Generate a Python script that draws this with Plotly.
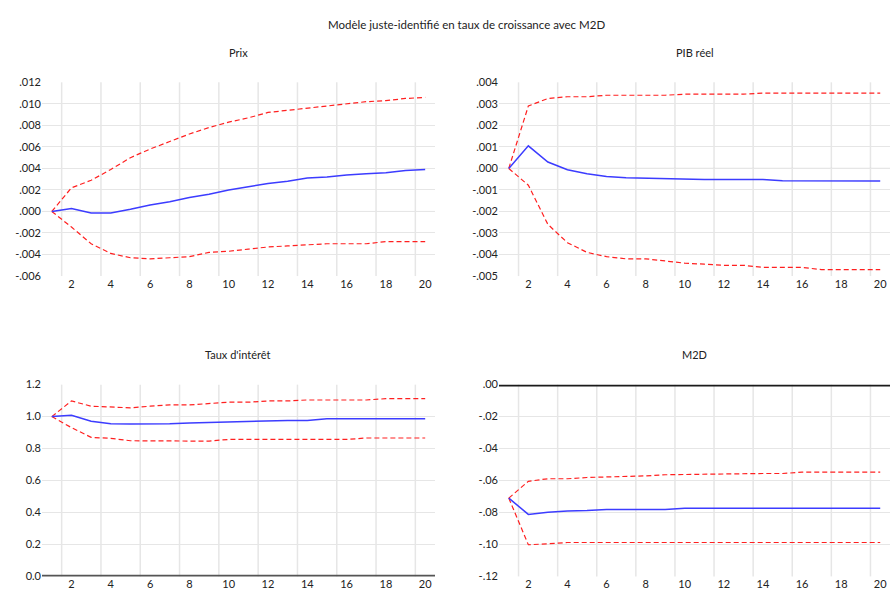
import plotly.graph_objects as go

# Horizons of the impulse responses
periods = list(range(1, 21))

# Prix
prix_irf = [0.0, 0.00027, -0.00015, -0.00015, 0.0002, 0.0006, 0.0009, 0.0013, 0.0016, 0.0020,
            0.0023, 0.0026, 0.0028, 0.0031, 0.0032, 0.0034, 0.0035, 0.0036, 0.0038, 0.0039]
prix_hi = [0.0, 0.0022, 0.0029, 0.0039, 0.0050, 0.0058, 0.0065, 0.0072, 0.0078, 0.0083,
           0.0087, 0.0092, 0.0094, 0.0096, 0.0098, 0.0100, 0.0102, 0.0103, 0.0105, 0.0106]
prix_lo = [0.0, -0.00145, -0.0030, -0.0039, -0.0043, -0.0044, -0.0043, -0.0042, -0.0038, -0.0037,
           -0.0035, -0.0033, -0.0032, -0.0031, -0.0030, -0.0030, -0.0030, -0.0028, -0.0028, -0.0028]

# PIB réel
pib_irf = [0.0, 0.00105, 0.0003, -0.00006, -0.00025, -0.00037, -0.00043, -0.00046, -0.00048, -0.0005,
           -0.00052, -0.00052, -0.00052, -0.00052, -0.00057, -0.00057, -0.00058, -0.00058, -0.00058, -0.00058]
pib_hi = [0.0, 0.0029, 0.00325, 0.00333, 0.00333, 0.0034, 0.0034, 0.0034, 0.0034, 0.00345,
          0.00345, 0.00345, 0.00345, 0.0035, 0.0035, 0.0035, 0.0035, 0.0035, 0.0035, 0.0035]
pib_lo = [0.0, -0.00078, -0.0026, -0.00345, -0.0039, -0.0041, -0.0042, -0.0042, -0.0043, -0.0044,
          -0.00445, -0.0045, -0.0045, -0.0046, -0.0046, -0.0046, -0.0047, -0.0047, -0.0047, -0.0047]

# Taux d'intérêt
taux_irf = [1.0, 1.008, 0.971, 0.955, 0.953, 0.953, 0.955, 0.960, 0.963, 0.970,
            0.972, 0.976, 0.976, 0.976, 0.986, 0.986, 0.986, 0.986, 0.986, 0.986]
taux_hi = [1.0, 1.098, 1.065, 1.059, 1.055, 1.065, 1.073, 1.073, 1.081, 1.090,
           1.090, 1.098, 1.098, 1.104, 1.104, 1.104, 1.104, 1.112, 1.112, 1.112]
taux_lo = [1.0, 0.931, 0.870, 0.864, 0.849, 0.847, 0.847, 0.847, 0.847, 0.857,
           0.857, 0.857, 0.857, 0.857, 0.857, 0.857, 0.866, 0.866, 0.866, 0.866]

# M2D
m2d_irf = [-0.071, -0.0812, -0.0798, -0.079, -0.0787, -0.0781, -0.0781, -0.0781, -0.0781, -0.0773,
           -0.0773, -0.0773, -0.0773, -0.0773, -0.0773, -0.0773, -0.0773, -0.0773, -0.0773, -0.0773]
m2d_hi = [-0.071, -0.0605, -0.0589, -0.0589, -0.0581, -0.0579, -0.0573, -0.0571, -0.0564, -0.0562,
          -0.0562, -0.0556, -0.0556, -0.0556, -0.0556, -0.0548, -0.0548, -0.0548, -0.0548, -0.0548]
m2d_lo = [-0.071, -0.1002, -0.0996, -0.0988, -0.0988, -0.0988, -0.0988, -0.0988, -0.0988, -0.0988,
          -0.0988, -0.0988, -0.0988, -0.0988, -0.0988, -0.0988, -0.0988, -0.0988, -0.0988, -0.0988]

# Axis ticks
x_ticks = [2, 4, 6, 8, 10, 12, 14, 16, 18, 20]
x_grid = [1.5, 3.5, 5.5, 7.5, 9.5, 11.5, 13.5, 15.5, 17.5, 19.5]

prix_ticks = [-0.006, -0.004, -0.002, 0.0, 0.002, 0.004, 0.006, 0.008, 0.010, 0.012]
prix_labels = ["-.006", "-.004", "-.002", ".000", ".002", ".004", ".006", ".008", ".010", ".012"]
pib_ticks = [-0.005, -0.004, -0.003, -0.002, -0.001, 0.0, 0.001, 0.002, 0.003, 0.004]
pib_labels = ["-.005", "-.004", "-.003", "-.002", "-.001", ".000", ".001", ".002", ".003", ".004"]
taux_ticks = [0.0, 0.2, 0.4, 0.6, 0.8, 1.0, 1.2]
taux_labels = ["0.0", "0.2", "0.4", "0.6", "0.8", "1.0", "1.2"]
m2d_ticks = [-0.12, -0.10, -0.08, -0.06, -0.04, -0.02, 0.0]
m2d_labels = ["-.12", "-.10", "-.08", "-.06", "-.04", "-.02", ".00"]

panels = [
    dict(title="Prix", irf=prix_irf, hi=prix_hi, lo=prix_lo, ticks=prix_ticks, labels=prix_labels,
         rng=[-0.006, 0.012], xd=[42 / 890, 435 / 890], yd=[1 - 275 / 600, 1 - 77 / 600],
         zc="#b4b4b4", zw=1),
    dict(title="PIB réel", irf=pib_irf, hi=pib_hi, lo=pib_lo, ticks=pib_ticks, labels=pib_labels,
         rng=[-0.005, 0.004], xd=[499 / 890, 1.0], yd=[1 - 275 / 600, 1 - 77 / 600],
         zc="#b4b4b4", zw=1),
    dict(title="Taux d'intérêt", irf=taux_irf, hi=taux_hi, lo=taux_lo, ticks=taux_ticks, labels=taux_labels,
         rng=[0.0, 1.2], xd=[42 / 890, 435 / 890], yd=[1 - 582 / 600, 1 - 386 / 600],
         zc="#555555", zw=3.5),
    dict(title="M2D", irf=m2d_irf, hi=m2d_hi, lo=m2d_lo, ticks=m2d_ticks, labels=m2d_labels,
         rng=[-0.12, 0.0], xd=[499 / 890, 1.0], yd=[1 - 582 / 600, 1 - 386 / 600],
         zc="#1a1a1a", zw=3.5),
]

FONT = "Lato, Open Sans, sans-serif"
TXT = "#222222"
GRID = "#e6e6e6"
BLUE = "#3c3cff"
RED = "#ff2020"

fig = go.Figure()
layout = dict(
    width=890, height=600,
    margin=dict(l=0, r=0, t=0, b=0),
    paper_bgcolor="white", plot_bgcolor="white",
    showlegend=False,
    font=dict(family=FONT, size=11, color=TXT),
    shapes=[], annotations=[],
)

for i, p in enumerate(panels, start=1):
    xa = "x" if i == 1 else f"x{i}"
    ya = "y" if i == 1 else f"y{i}"
    for series, color, dash, width in ((p["hi"], RED, "5px,3px", 1.2),
                                       (p["lo"], RED, "5px,3px", 1.2),
                                       (p["irf"], BLUE, "solid", 1.5)):
        fig.add_trace(go.Scatter(x=periods, y=series, mode="lines", xaxis=xa, yaxis=ya,
                                 line=dict(color=color, width=width, dash=dash), hoverinfo="skip"))

    layout[f"xaxis{'' if i == 1 else i}"] = dict(
        domain=p["xd"], anchor=ya, range=[0.5, 20.5],
        tickmode="array", tickvals=x_ticks, showgrid=False, zeroline=False,
        showline=False, ticks="", tickfont=dict(size=11, color=TXT),
    )
    layout[f"yaxis{'' if i == 1 else i}"] = dict(
        domain=p["yd"], anchor=xa, range=p["rng"],
        tickmode="array", tickvals=p["ticks"], ticktext=p["labels"],
        showgrid=True, gridcolor=GRID, gridwidth=1, zeroline=False,
        showline=False, ticks="", tickfont=dict(size=11, color=TXT),
    )

    # vertical grid between periods
    for g in x_grid:
        layout["shapes"].append(dict(type="line", xref=xa, yref=f"{ya} domain",
                                     x0=g, x1=g, y0=0, y1=1, layer="below",
                                     line=dict(color=GRID, width=1.5)))
    # zero line
    layout["shapes"].append(dict(type="line", xref=f"{xa} domain", yref=ya,
                                 x0=0, x1=1, y0=0, y1=0, layer="below",
                                 line=dict(color=p["zc"], width=p["zw"])))

    layout["annotations"].append(dict(
        text=p["title"], xref="paper", yref="paper",
        x=(p["xd"][0] + p["xd"][1]) / 2, y=p["yd"][1] + 31 / 600,
        xanchor="center", yanchor="middle", showarrow=False,
        font=dict(size=11, color=TXT, family=FONT),
    ))

layout["annotations"].append(dict(
    text="Modèle juste-identifié en taux de croissance avec M2D",
    xref="paper", yref="paper", x=0.524, y=1 - 18 / 600,
    xanchor="center", yanchor="middle", showarrow=False,
    font=dict(size=11.5, color=TXT, family=FONT),
))

fig.update_layout(**layout)
fig.write_html("out.html")
